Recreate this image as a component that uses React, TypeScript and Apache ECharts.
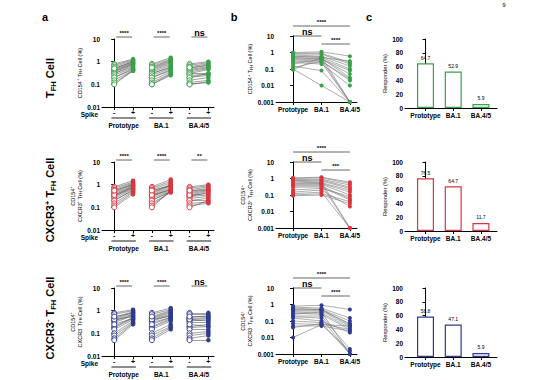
import React, { useEffect, useRef } from "react";
import * as echarts from "echarts";

const GROUPS = ["Prototype", "BA.1", "BA.4/5"];
const SPIKE = ["-", "+", "-", "+", "-", "+"];
const COLORS = ["#3aa04a", "#d9363e", "#2f3b8f"];

// Row 1: TFH cell
const tfhNeg = [
  [0.8, 0.7, 0.6, 0.5, 0.45, 0.4, 0.38, 0.35, 0.3, 0.3, 0.25, 0.2, 0.2, 0.15, 0.12, 0.1, 0.5],
  [0.8, 0.7, 0.6, 0.5, 0.45, 0.4, 0.35, 0.3, 0.3, 0.25, 0.2, 0.2, 0.15, 0.12, 0.1, 0.1, 0.55],
  [0.8, 0.7, 0.6, 0.5, 0.45, 0.4, 0.35, 0.3, 0.3, 0.25, 0.2, 0.2, 0.15, 0.12, 0.1, 0.1, 0.55],
];
const tfhPos = [
  [1.3, 1.2, 1.1, 1.0, 0.9, 0.85, 0.8, 0.75, 0.7, 0.6, 0.55, 0.5, 0.45, 0.42, 0.4, 0.4, 1.0],
  [1.5, 1.3, 1.2, 1.0, 0.9, 0.8, 0.7, 0.6, 0.55, 0.5, 0.45, 0.4, 0.35, 0.3, 0.28, 0.25, 1.1],
  [1.0, 0.9, 0.8, 0.7, 0.6, 0.55, 0.5, 0.45, 0.3, 0.28, 0.3, 0.25, 0.2, 0.15, 0.13, 0.12, 0.7],
];
const tfhB = [
  [1.0, 0.9, 0.8, 0.7, 0.6, 0.55, 0.5, 0.45, 0.4, 0.35, 0.3, 0.25, 0.2, 0.15, 0.12, 0.1, 0.09],
  [1.1, 0.9, 0.8, 0.6, 0.5, 0.55, 0.4, 0.45, 0.35, 0.3, 0.25, 0.2, 0.4, 0.08, 0.3, 0.01, 0.5],
  [0.6, 0.25, 0.2, 0.15, 0.1, 0.001, 0.08, 0.03, 0.001, 0.02, 0.001, 0.01, 0.05, 0.001, 0.025, 0.001, 0.3],
];
const tfhResp = [64.7, 52.9, 5.9];

// Row 2: CXCR3+ TFH cell
const cx3pNeg = [
  [0.8, 0.7, 0.6, 0.5, 0.45, 0.4, 0.35, 0.3, 0.3, 0.25, 0.2, 0.2, 0.15, 0.12, 0.1, 0.35, 0.55],
  [0.8, 0.7, 0.6, 0.5, 0.45, 0.4, 0.35, 0.3, 0.3, 0.25, 0.2, 0.2, 0.15, 0.12, 0.1, 0.35, 0.55],
  [0.8, 0.7, 0.6, 0.5, 0.45, 0.4, 0.35, 0.3, 0.3, 0.25, 0.2, 0.2, 0.15, 0.12, 0.1, 0.35, 0.55],
];
const cx3pPos = [
  [1.5, 1.3, 1.2, 1.1, 1.0, 0.9, 0.85, 0.8, 0.7, 0.65, 0.6, 0.55, 0.5, 0.45, 0.38, 0.75, 1.0],
  [1.7, 1.4, 1.2, 1.0, 0.95, 0.9, 0.8, 0.7, 0.6, 0.55, 0.5, 0.5, 0.45, 0.5, 0.55, 0.6, 0.9],
  [1.0, 0.9, 0.8, 0.7, 0.6, 0.55, 0.5, 0.45, 0.35, 0.3, 0.25, 0.2, 0.17, 0.15, 0.2, 0.4, 0.6],
];
const cx3pB = [
  [1.1, 1.0, 0.9, 0.8, 0.75, 0.7, 0.6, 0.5, 0.45, 0.4, 0.35, 0.3, 0.2, 0.15, 0.12, 0.1, 0.09],
  [1.2, 1.1, 0.9, 0.8, 0.7, 0.6, 0.55, 0.5, 0.45, 0.4, 0.35, 0.3, 0.25, 0.2, 0.15, 0.12, 0.1],
  [0.6, 0.5, 0.4, 0.3, 0.25, 0.001, 0.2, 0.15, 0.1, 0.001, 0.06, 0.05, 0.08, 0.02, 0.001, 0.04, 0.03],
];
const cx3pResp = [76.5, 64.7, 11.7];

// Row 3: CXCR3- TFH cell
const cx3nNeg = [
  [0.8, 0.7, 0.5, 0.45, 0.4, 0.35, 0.3, 0.2, 0.18, 0.15, 0.1, 0.08, 0.06, 0.05, 0.4, 0.25, 0.55],
  [0.8, 0.7, 0.5, 0.45, 0.4, 0.35, 0.3, 0.2, 0.18, 0.15, 0.1, 0.08, 0.06, 0.05, 0.4, 0.25, 0.55],
  [0.8, 0.7, 0.5, 0.45, 0.4, 0.35, 0.3, 0.2, 0.18, 0.15, 0.1, 0.08, 0.06, 0.05, 0.4, 0.25, 0.55],
];
const cx3nPos = [
  [1.1, 1.0, 0.9, 0.8, 0.7, 0.65, 0.6, 0.5, 0.45, 0.4, 0.35, 0.3, 0.28, 0.25, 0.55, 0.45, 0.8],
  [1.3, 1.1, 0.9, 0.8, 0.7, 0.6, 0.5, 0.45, 0.4, 0.35, 0.25, 0.2, 0.18, 0.15, 0.6, 0.5, 1.0],
  [0.8, 0.7, 0.6, 0.5, 0.45, 0.4, 0.3, 0.25, 0.2, 0.15, 0.12, 0.1, 0.08, 0.05, 0.35, 0.2, 0.55],
];
const cx3nB = [
  [0.8, 0.7, 0.6, 0.5, 0.45, 0.4, 0.35, 0.3, 0.2, 0.18, 0.15, 0.1, 0.07, 0.05, 0.04, 0.01, 0.25],
  [0.9, 0.6, 0.5, 0.45, 0.5, 0.4, 0.3, 0.25, 0.2, 0.15, 0.1, 0.08, 0.06, 0.05, 0.07, 0.06, 0.35],
  [0.5, 0.15, 0.1, 0.07, 0.06, 0.05, 0.04, 0.03, 0.002, 0.001, 0.02, 0.001, 0.0015, 0.025, 0.03, 0.05, 0.001],
];
const cx3nResp = [58.8, 47.1, 5.9];

const aSigLabels = [
  ["****", "****", "ns"],
  ["****", "****", "**"],
  ["****", "****", "ns"],
];
// b: [Prototype vs BA.4/5, Prototype vs BA.1, BA.1 vs BA.4/5]
const bSigLabels = [
  ["****", "ns", "****"],
  ["****", "ns", "***"],
  ["****", "ns", "****"],
];

const ROW_TITLES = [
  "{b|T}{sub|FH}{b| Cell}",
  "{b|CXCR3}{sup|+}{b| T}{sub|FH}{b| Cell}",
  "{b|CXCR3}{sup|-}{b| T}{sub|FH}{b| Cell}",
];
const Y_NAMES = [
  "{n|CD154}{s|+}{n| T}{u|FH}{n| Cell (%)}",
  "{n|CD154}{s|+}\n{n|CXCR3}{s|+}{n| T}{u|FH}{n| Cell (%)}",
  "{n|CD154}{s|+}\n{n|CXCR3}{s|-}{n| T}{u|FH}{n| Cell (%)}",
];

const ROWS = [
  { neg: tfhNeg, pos: tfhPos, b: tfhB, resp: tfhResp },
  { neg: cx3pNeg, pos: cx3pPos, b: cx3pB, resp: cx3pResp },
  { neg: cx3nNeg, pos: cx3nPos, b: cx3nB, resp: cx3nResp },
];

const FONT = "Liberation Sans";
const ROW_TOP = [39, 162, 288];
const A_H = 68;
const B_TOP = [36, 162, 288];
const B_H = 66;
const C_H = 69;

const logFmt = (v: number) => {
  const e = Math.round(Math.log10(v));
  return e >= 0 ? String(Math.pow(10, e)) : Math.pow(10, e).toFixed(-e);
};

const nameRich = {
  n: { fontSize: 5.5, fontFamily: FONT, color: "#000", lineHeight: 7 },
  s: { fontSize: 3.8, fontFamily: FONT, color: "#000", verticalAlign: "top", lineHeight: 7 },
  u: { fontSize: 3.8, fontFamily: FONT, color: "#000", verticalAlign: "bottom", lineHeight: 6 },
};

export default function App() {
  const ref = useRef<HTMLDivElement>(null);
  useEffect(() => {
    if (!ref.current) return;
    const chart = echarts.init(ref.current, undefined, { renderer: "svg" });
    const grid: any[] = [];
    const xAxis: any[] = [];
    const yAxis: any[] = [];
    const series: any[] = [];
    const idx: any[] = [];

    const axisLineStyle = { show: true, lineStyle: { color: "#000", width: 1 } };
    const tickStyle = { show: true, length: 3, lineStyle: { color: "#000", width: 1 } };
    const lblStyle = { color: "#000", fontFamily: FONT, fontWeight: "bold" as const, fontSize: 6.5 };

    ROWS.forEach((row, r) => {
      const color = COLORS[r];
      // ---- panel a
      const ga = grid.length;
      grid.push({ left: 102, top: ROW_TOP[r], width: 112, height: A_H });
      const xa = xAxis.length;
      xAxis.push({
        type: "value", gridIndex: ga, min: -0.65, max: 5.3, splitLine: { show: false },
        axisLine: axisLineStyle, axisTick: { ...tickStyle, customValues: [0, 1, 2, 3, 4, 5] },
        axisLabel: { ...lblStyle, fontSize: 7, margin: 2, customValues: [0, 1, 2, 3, 4, 5], formatter: (v: number) => SPIKE[Math.round(v)] },
      });
      xAxis.push({
        type: "value", gridIndex: ga, min: -0.65, max: 5.3, position: "bottom", offset: 13,
        splitLine: { show: false }, axisLine: { show: false }, axisTick: { show: false },
        axisLabel: { ...lblStyle, margin: 2, customValues: [0.5, 2.5, 4.5], formatter: (v: number) => GROUPS[Math.round((v - 0.5) / 2)] },
      });
      const ya = yAxis.length;
      yAxis.push({
        type: "log", logBase: 10, gridIndex: ga, min: 0.01, max: 10, splitLine: { show: false },
        axisLine: axisLineStyle, axisTick: tickStyle,
        axisLabel: { ...lblStyle, margin: 2, formatter: logFmt },
        name: Y_NAMES[r], nameLocation: "middle", nameRotate: 90,
        nameGap: r === 0 ? 15 : 13, nameTextStyle: { rich: nameRich },
      });
      const segs: any[] = [];
      const negPts: any[] = [];
      const posPts: any[] = [];
      for (let g = 0; g < 3; g++) {
        row.neg[g].forEach((v, i) => {
          const p = row.pos[g][i];
          segs.push({ coords: [[2 * g, v], [2 * g + 1, p]] });
          negPts.push([2 * g, v]);
          posPts.push([2 * g + 1, p]);
        });
      }
      series.push({
        type: "lines", coordinateSystem: "cartesian2d", xAxisIndex: xa, yAxisIndex: ya, data: segs,
        lineStyle: { color: "#444", width: 0.5, opacity: 1 }, silent: true, z: 1,
      });
      series.push({
        type: "scatter", xAxisIndex: xa, yAxisIndex: ya, data: negPts, symbol: "circle", symbolSize: 5, clip: false,
        itemStyle: { color: "#fff", borderColor: color, borderWidth: 1, opacity: 1 }, z: 2, silent: true,
      });
      series.push({
        type: "scatter", xAxisIndex: xa, yAxisIndex: ya, data: posPts, symbol: "circle", symbolSize: 4.5, clip: false,
        itemStyle: { color, opacity: 1 }, z: 2, silent: true,
      });

      // ---- panel b
      const gb = grid.length;
      grid.push({ left: 276, top: B_TOP[r], width: 81, height: B_H });
      const xb = xAxis.length;
      xAxis.push({
        type: "value", gridIndex: gb, min: -0.6, max: 2.25, splitLine: { show: false },
        axisLine: axisLineStyle, axisTick: { ...tickStyle, customValues: [0, 1, 2] },
        axisLabel: { ...lblStyle, margin: 4, customValues: [0, 1, 2], formatter: (v: number) => GROUPS[Math.round(v)] },
      });
      const yb = yAxis.length;
      yAxis.push({
        type: "log", logBase: 10, gridIndex: gb, min: 0.001, max: 10, splitLine: { show: false },
        axisLine: axisLineStyle, axisTick: tickStyle,
        axisLabel: { ...lblStyle, margin: 2, formatter: logFmt },
        name: Y_NAMES[r], nameLocation: "middle", nameRotate: 90, nameGap: r === 0 ? 19 : 17,
        nameTextStyle: { rich: nameRich },
      });
      const polys: any[] = [];
      const bPts: any[] = [];
      row.b[0].forEach((_, i) => {
        const c = [0, 1, 2].map((k) => [k, row.b[k][i]]);
        polys.push({ coords: c });
        c.forEach((p) => bPts.push(p));
      });
      series.push({
        type: "lines", coordinateSystem: "cartesian2d", polyline: true, xAxisIndex: xb, yAxisIndex: yb, data: polys,
        lineStyle: { color: "#777", width: 0.6, opacity: 1 }, silent: true, z: 1,
      });
      series.push({
        type: "scatter", xAxisIndex: xb, yAxisIndex: yb, data: bPts, symbol: "circle", symbolSize: 4, clip: false,
        itemStyle: { color, opacity: 1 }, z: 2, silent: true,
      });

      // ---- panel c
      const gc = grid.length;
      grid.push({ left: 405, top: ROW_TOP[r], width: 92, height: C_H });
      const xc = xAxis.length;
      xAxis.push({
        type: "value", gridIndex: gc, min: -0.74, max: 2.58, splitLine: { show: false },
        axisLine: axisLineStyle, axisTick: { ...tickStyle, customValues: [0, 1, 2] },
        axisLabel: { ...lblStyle, margin: 4, customValues: [0, 1, 2], formatter: (v: number) => GROUPS[Math.round(v)] },
      });
      const yc = yAxis.length;
      yAxis.push({
        type: "value", gridIndex: gc, min: 0, max: 100, interval: 20, splitLine: { show: false },
        axisLine: axisLineStyle, axisTick: tickStyle,
        axisLabel: { ...lblStyle, margin: 2 },
        name: "Responder (%)", nameLocation: "middle", nameRotate: 90, nameGap: 15,
        nameTextStyle: { fontSize: 5.8, fontFamily: FONT, color: "#000" },
      });
      series.push({
        type: "bar", xAxisIndex: xc, yAxisIndex: yc, barWidth: 17,
        data: row.resp.map((v, i) => [i, v]),
        itemStyle: { color: "#fff", borderColor: color, borderWidth: 1.2 },
        label: {
          show: true, position: "top", distance: 3, fontSize: 5, fontFamily: FONT, color: "#000",
          formatter: (p: any) => p.value[1].toFixed(1),
        },
        silent: true, z: 1,
      });
      idx.push({ xa, xb, xc, ga, gb });
    });

    chart.setOption({
      animation: false,
      backgroundColor: "#fff",
      textStyle: { fontFamily: FONT },
      grid, xAxis, yAxis, series,
    });

    // annotations placed through the axes' own scales
    const graphic: any[] = [];
    const px = (xi: number, v: number) => chart.convertToPixel({ xAxisIndex: xi } as any, v) as unknown as number;
    const hline = (x1: number, x2: number, y: number, w = 0.9, c = "#555") =>
      graphic.push({ type: "line", shape: { x1, y1: y, x2, y2: y }, style: { stroke: c, lineWidth: w }, silent: true });
    const txt = (x: number, y: number, text: string, opts: any = {}) =>
      graphic.push({ type: "text", x, y, silent: true, style: { text, fontFamily: FONT, fill: "#000", align: "center", verticalAlign: "bottom", ...opts } });
    const sigFont = (s: string) => (s === "ns" ? { fontSize: 9, fontWeight: "bold" } : { fontSize: 6, fontWeight: "bold" });

    ROWS.forEach((_, r) => {
      const { xa, xb } = idx[r];
      const top = ROW_TOP[r];
      const bottom = top + A_H;
      for (let g = 0; g < 3; g++) {
        const x1 = px(xa, 2 * g + 0.1), x2 = px(xa, 2 * g + 0.95);
        hline(x1, x2, top - 2);
        const s = aSigLabels[r][g];
        txt((x1 + x2) / 2, top - (s === "ns" ? 2 : 3), s, sigFont(s));
        hline(px(xa, 2 * g - 0.15), px(xa, 2 * g + 1.15), bottom + 11, 0.9, "#000");
      }
      txt(98, bottom + 7, "Spike", { fontSize: 6.5, fontWeight: "bold", align: "right", verticalAlign: "middle" });
      const bt = B_TOP[r];
      const p0 = px(xb, 0), p1 = px(xb, 1), p2 = px(xb, 2);
      const lines = [
        { a: p0, b: p2, y: bt - 10 },
        { a: p0, b: p1, y: bt },
        { a: p1, b: p2, y: bt + 8 },
      ];
      lines.forEach((l, k) => {
        hline(l.a, l.b, l.y);
        const s = bSigLabels[r][k];
        txt((l.a + l.b) / 2, l.y - (s === "ns" ? 0 : 1), s, sigFont(s));
      });
      const cy = [78, 200, 318][r];
      graphic.push({
        type: "text", x: 50, y: cy, rotation: Math.PI / 2, silent: true,
        style: {
          text: ROW_TITLES[r], align: "center", verticalAlign: "middle",
          rich: {
            b: { fontSize: 11, fontWeight: "bold", fontFamily: FONT, fill: "#000", lineHeight: 14 },
            sub: { fontSize: 7.5, fontWeight: "bold", fontFamily: FONT, fill: "#000", verticalAlign: "bottom", lineHeight: 11 },
            sup: { fontSize: 7.5, fontWeight: "bold", fontFamily: FONT, fill: "#000", verticalAlign: "top", lineHeight: 14 },
          },
        },
      });
    });
    txt(45, 22, "a", { fontSize: 11, fontWeight: "bold" });
    txt(234, 22, "b", { fontSize: 11, fontWeight: "bold" });
    txt(369, 22, "c", { fontSize: 11, fontWeight: "bold" });
    txt(504, 8, "9", { fontSize: 6 });

    chart.setOption({ graphic });
    return () => chart.dispose();
  }, []);
  return <div ref={ref} style={{ position: "fixed", left: 0, top: 0, width: 554, height: 380 }} />;
}
